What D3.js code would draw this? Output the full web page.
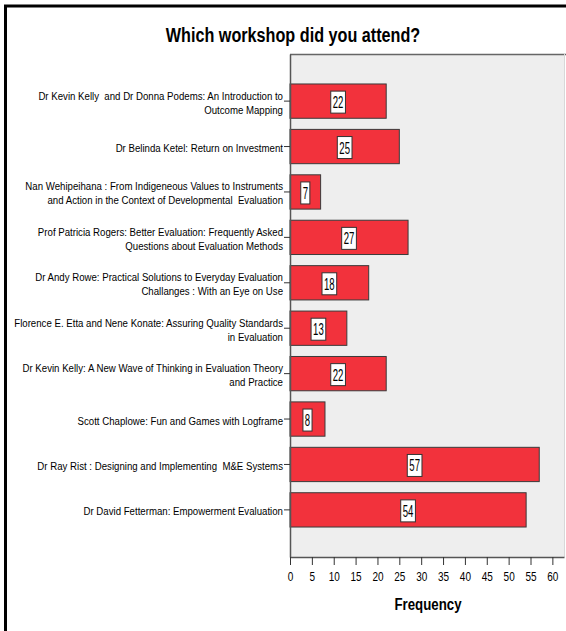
<!DOCTYPE html>
<html>
<head>
<meta charset="utf-8">
<script src="https://cdn.jsdelivr.net/npm/d3@7"></script>
<style>
  html, body { margin: 0; padding: 0; background: #fff; }
  svg { display: block; }
  text { font-family: "Liberation Sans", Arial, sans-serif; white-space: pre; }
</style>
</head>
<body>
<svg id="chart" width="566" height="631"></svg>
<script>
const categories = [
  "Dr Kevin Kelly  and Dr Donna Podems: An Introduction to\nOutcome Mapping",
  "Dr Belinda Ketel: Return on Investment",
  "Nan Wehipeihana : From Indigeneous Values to Instruments\nand Action in the Context of Developmental  Evaluation",
  "Prof Patricia Rogers: Better Evaluation: Frequently Asked\nQuestions about Evaluation Methods",
  "Dr Andy Rowe: Practical Solutions to Everyday Evaluation\nChallanges : With an Eye on Use",
  "Florence E. Etta and Nene Konate: Assuring Quality Standards\nin Evaluation",
  "Dr Kevin Kelly: A New Wave of Thinking in Evaluation Theory\nand Practice",
  "Scott Chaplowe: Fun and Games with Logframe",
  "Dr Ray Rist : Designing and Implementing  M&E Systems",
  "Dr David Fetterman: Empowerment Evaluation"
];
const frequencies = [22, 25, 7, 27, 18, 13, 22, 8, 57, 54];
const xTicks = [0, 5, 10, 15, 20, 25, 30, 35, 40, 45, 50, 55, 60];
const titleText = "Which workshop did you attend?";
const xAxisTitle = "Frequency";

const svg = d3.select("#chart");

// outer frame
svg.append("rect")
  .attr("x", 5.5).attr("y", 6).attr("width", 600).attr("height", 700)
  .attr("fill", "none").attr("stroke", "#000").attr("stroke-width", 3);

const plot = { left: 290, right: 564, top: 54, bottom: 557 };

const x = d3.scaleLinear().domain([0, 62.66]).range([plot.left, plot.right]);
const y = d3.scaleBand().domain(categories).range([plot.top, plot.bottom])
  .paddingInner(0.245).paddingOuter(0.66);

// plot background
svg.append("rect")
  .attr("x", plot.left).attr("y", plot.top)
  .attr("width", plot.right - plot.left).attr("height", plot.bottom - plot.top)
  .attr("fill", "#eeeeee");
svg.append("line").attr("x1", plot.left).attr("x2", plot.right + 2)
  .attr("y1", plot.top + 0.5).attr("y2", plot.top + 0.5)
  .attr("stroke", "#666").attr("stroke-width", 1.5);
svg.append("line").attr("x1", plot.right + 0.5).attr("x2", plot.right + 0.5)
  .attr("y1", plot.top).attr("y2", plot.bottom)
  .attr("stroke", "#d8d8d8").attr("stroke-width", 1);

// condensed text helper
function condText(parent, x0, y0, sx, size, weight, anchor, str) {
  const g = parent.append("g").attr("transform", `translate(${x0},${y0}) scale(${sx},1)`);
  return g.append("text")
    .attr("text-anchor", anchor)
    .attr("font-size", size).attr("font-weight", weight)
    .attr("fill", "#000")
    .text(str);
}

// title
condText(svg, 293, 42, 0.81, 20, "bold", "middle", titleText);

// bars
svg.append("g").selectAll("rect").data(categories).join("rect")
  .attr("x", x(0))
  .attr("y", d => y(d))
  .attr("width", (d, i) => x(frequencies[i]) - x(0))
  .attr("height", y.bandwidth())
  .attr("fill", "#f2323c")
  .attr("stroke", "#3a3a3a").attr("stroke-width", 1);

// value labels
const vl = svg.append("g").selectAll("g").data(categories).join("g")
  .attr("transform", (d, i) => `translate(${x(frequencies[i] / 2)},${y(d) + y.bandwidth() / 2 + 1})`);
vl.append("rect")
  .attr("x", (d, i) => -(String(frequencies[i]).length * 5.6 + 3.5) / 2)
  .attr("y", -11)
  .attr("width", (d, i) => String(frequencies[i]).length * 5.6 + 3.5)
  .attr("height", 22)
  .attr("fill", "#fff").attr("stroke", "#333").attr("stroke-width", 1);
vl.each(function(d, i) {
  condText(d3.select(this), 0, 6, 0.6, 16, "normal", "middle", String(frequencies[i]));
});

// y axis
const yAxis = d3.axisLeft(y).tickSize(6).tickSizeOuter(0).tickPadding(1).tickFormat("");
const gy = svg.append("g").attr("transform", `translate(${plot.left},0)`).call(yAxis);
gy.select(".domain").attr("stroke", "#555").attr("stroke-width", 1.5);
gy.selectAll(".tick line").attr("stroke", "#333");
gy.selectAll(".tick").each(function(d) {
  const lines = d.split("\n");
  const g = d3.select(this).append("g").attr("transform", "translate(-7,1.5) scale(0.84,1)");
  const t = g.append("text")
    .attr("text-anchor", "end")
    .attr("font-size", 11.5).attr("fill", "#000");
  const lh = 14;
  const startY = -(lines.length - 1) * lh / 2;
  lines.forEach((ln, k) => {
    t.append("tspan").attr("x", 0).attr("y", startY + k * lh).attr("dy", "0.35em").text(ln);
  });
});

// x axis
const xAxis = d3.axisBottom(x).tickValues(xTicks).tickSize(8).tickPadding(6).tickSizeOuter(0).tickFormat("");
const gx = svg.append("g").attr("transform", `translate(0,${plot.bottom})`).call(xAxis);
gx.select(".domain").attr("stroke", "#555").attr("stroke-width", 1.5);
gx.selectAll(".tick line").attr("stroke", "#333");
gx.selectAll(".tick").each(function(d) {
  condText(d3.select(this), 0, 24, 0.8, 12.5, "normal", "middle", d3.format("d")(d));
});

// x axis title
condText(svg, 428, 610, 0.78, 17, "bold", "middle", xAxisTitle);
</script>
</body>
</html>
